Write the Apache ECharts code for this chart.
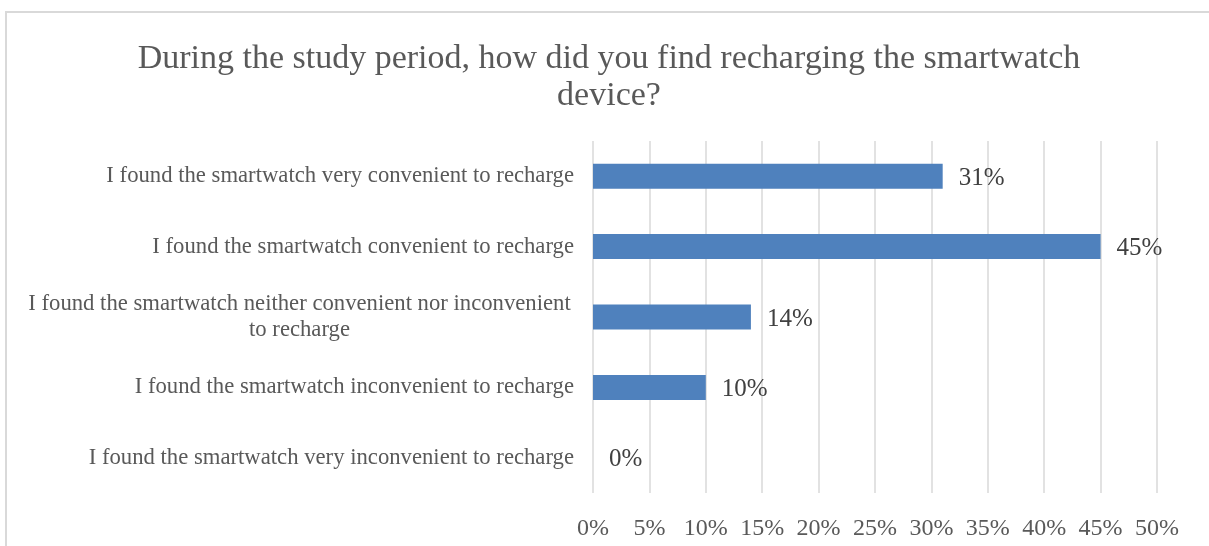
<!DOCTYPE html>
<html>
<head>
<meta charset="utf-8">
<script src="https://cdn.jsdelivr.net/npm/echarts@6/dist/echarts.min.js"></script>
<style>
  html, body { margin: 0; padding: 0; background: #fff; }
  #chart { width: 1209px; height: 546px; }
</style>
</head>
<body>
<div id="chart"></div>
<script>
// Survey answers, top to bottom as shown
const categories = [
  'I found the smartwatch very convenient to recharge',
  'I found the smartwatch convenient to recharge',
  'I found the smartwatch neither convenient nor inconvenient\nto recharge',
  'I found the smartwatch inconvenient to recharge',
  'I found the smartwatch very inconvenient to recharge'
];
const values = [31, 45, 14, 10, 0];
const titleText = 'During the study period, how did you find recharging the smartwatch\ndevice?';

const chart = echarts.init(document.getElementById('chart'));
const serif = "'Liberation Serif', 'DejaVu Serif', serif";

const option = {
  animation: false,
  title: {
    text: titleText,
    left: 604,
    top: 36,
    textAlign: 'center',
    textStyle: { fontFamily: serif, fontSize: 34, fontWeight: 'normal', color: '#595959', lineHeight: 37 }
  },
  graphic: [{
    type: 'rect',
    shape: { x: 6, y: 12, width: 1300, height: 700 },
    style: { fill: 'none', stroke: '#d9d9d9', lineWidth: 2 },
    silent: true
  }],
  grid: { left: 593, right: 52, top: 141, bottom: 53, containLabel: false },
  xAxis: {
    type: 'value',
    min: 0,
    max: 50,
    interval: 5,
    axisLine: { show: false },
    axisTick: { show: false },
    splitLine: { lineStyle: { color: '#d9d9d9', width: 1.5 } },
    axisLabel: {
      formatter: '{value}%',
      fontFamily: serif,
      fontSize: 24,
      color: '#595959',
      margin: 24
    }
  },
  yAxis: {
    type: 'category',
    inverse: true,
    data: categories,
    axisLine: { show: false },
    axisTick: { show: false },
    axisLabel: {
      fontFamily: serif,
      fontSize: 22.7,
      color: '#595959',
      margin: 19,
      align: 'right',
      lineHeight: 26,
      formatter: function (v) {
        // wrapped label: centre each line inside a fixed box
        if (v.indexOf('\n') < 0) return v;
        return v.split('\n').map(function (s) { return '{c|' + s + '}'; }).join('\n');
      },
      rich: {
        c: { width: 549, align: 'center', fontFamily: serif, fontSize: 22.7, color: '#595959', lineHeight: 26 }
      }
    }
  },
  series: [{
    type: 'bar',
    data: values,
    barWidth: '35.5%',
    itemStyle: { color: '#4f81bd' },
    label: {
      show: true,
      position: 'right',
      distance: 16,
      offset: [0, 2],
      formatter: '{c}%',
      fontFamily: serif,
      fontSize: 25,
      color: '#404040'
    }
  }]
};

chart.setOption(option);
</script>
</body>
</html>
